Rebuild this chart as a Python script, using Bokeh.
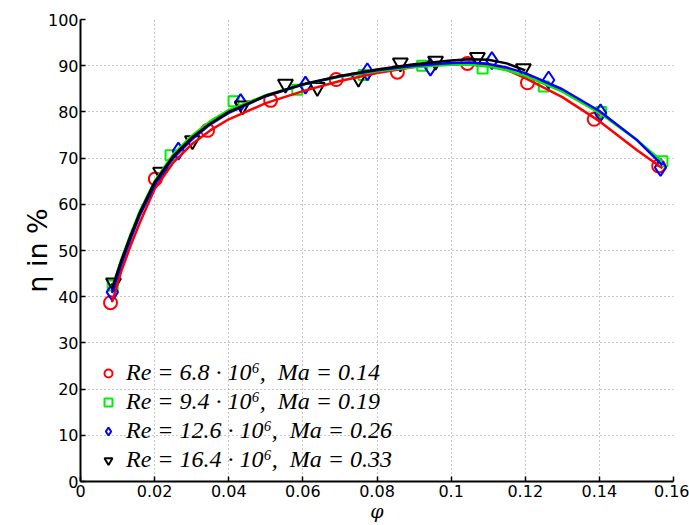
from bokeh.plotting import figure
from bokeh.models import Range1d, FixedTicker, CustomJSTickFormatter, Legend
from bokeh.embed import file_html
from bokeh.resources import INLINE

# ---- measured data points ----
red_x = [0.0081, 0.0202, 0.0343, 0.0513, 0.0690, 0.0855, 0.1044, 0.1206, 0.1386, 0.1560]
red_y = [38.7, 65.5, 76.0, 82.5, 87.0, 88.6, 90.5, 86.3, 78.4, 68.3]

green_x = [0.0087, 0.0243, 0.0413, 0.0585, 0.0764, 0.0922, 0.1085, 0.1250, 0.1405, 0.1570]
green_y = [42.4, 70.6, 82.3, 84.8, 88.0, 90.0, 89.4, 85.5, 80.0, 69.3]

blue_x = [0.0086, 0.0264, 0.0432, 0.0607, 0.0774, 0.0944, 0.1110, 0.1263, 0.1403, 0.1565]
blue_y = [41.0, 71.5, 82.0, 85.8, 88.7, 89.7, 91.1, 86.9, 79.8, 68.0]

black_x = [0.0089, 0.0216, 0.0302, 0.0437, 0.0553, 0.0639, 0.0750, 0.0863, 0.0958, 0.1071, 0.1195]
black_y = [43.0, 67.0, 73.8, 81.3, 86.0, 85.3, 87.3, 90.6, 91.0, 91.8, 89.4]

# ---- fitted curves ----
curve_x = [0.0085, 0.011, 0.0135, 0.016, 0.02, 0.025, 0.03, 0.035, 0.04, 0.05, 0.06,
           0.07, 0.08, 0.09, 0.10, 0.105, 0.11, 0.115, 0.12, 0.13, 0.14, 0.15, 0.157]
red_fit = [38.8, 45.5, 51.0, 56.0, 63.3, 69.0, 73.0, 76.0, 78.4, 81.9, 84.5,
           86.7, 88.4, 89.7, 90.5, 90.6, 90.2, 89.1, 87.3, 83.2, 78.0, 71.8, 67.8]
green_fit = [41.8, 48.0, 53.5, 58.5, 65.0, 70.8, 74.8, 78.0, 80.4, 83.6, 85.9,
             87.6, 88.8, 89.7, 90.2, 90.2, 89.8, 89.0, 87.8, 84.4, 79.8, 74.0, 69.3]
blue_fit = [40.8, 47.0, 52.5, 57.6, 64.2, 70.0, 74.0, 77.3, 79.8, 83.4, 85.9,
            87.7, 89.0, 90.0, 90.6, 90.7, 90.4, 89.6, 88.4, 84.9, 80.2, 74.0, 68.5]
black_fit = [41.8, 47.8, 53.2, 58.2, 64.8, 70.4, 74.4, 77.5, 80.0, 83.5, 86.0,
             87.8, 89.2, 90.3, 91.1, 91.4, 91.3, 90.5, 89.0]

labels = ["Re = 6.8 · 10⁶,  Ma = 0.14", "Re = 9.4 · 10⁶,  Ma = 0.19",
          "Re = 12.6 · 10⁶,  Ma = 0.26", "Re = 16.4 · 10⁶,  Ma = 0.33"]
x_ticks = [0, 0.02, 0.04, 0.06, 0.08, 0.10, 0.12, 0.14, 0.16]
y_ticks = [0, 10, 20, 30, 40, 50, 60, 70, 80, 90, 100]

p = figure(width=689, height=525, output_backend="svg", toolbar_location=None,
           x_range=Range1d(0, 0.16), y_range=Range1d(0, 100),
           min_border_left=80, min_border_right=16, min_border_top=19, min_border_bottom=44)
p.outline_line_color = None
p.background_fill_color = "white"
p.border_fill_color = "white"

for ax in (p.xaxis[0], p.yaxis[0]):
    ax.axis_line_width = 2
    ax.axis_line_color = "black"
    ax.major_tick_in = 5
    ax.major_tick_out = 0
    ax.major_tick_line_width = 1.5
    ax.minor_tick_line_color = None
    ax.major_label_text_font = "DejaVu Sans"
    ax.major_label_text_font_size = "16px"
    ax.major_label_text_color = "black"
    ax.axis_label_text_color = "black"

p.xaxis.ticker = FixedTicker(ticks=x_ticks)
p.yaxis.ticker = FixedTicker(ticks=y_ticks)
p.xaxis.formatter = CustomJSTickFormatter(code="return Number(tick.toFixed(2)).toString();")
p.xaxis.major_label_standoff = 3
p.yaxis.major_label_standoff = 2

p.xaxis.axis_label = "φ"
p.xaxis.axis_label_text_font = "DejaVu Serif"
p.xaxis.axis_label_text_font_style = "italic"
p.xaxis.axis_label_text_font_size = "19px"
p.xaxis.axis_label_standoff = 0
p.yaxis.axis_label = "η in %"
p.yaxis.axis_label_text_font = "DejaVu Sans"
p.yaxis.axis_label_text_font_style = "normal"
p.yaxis.axis_label_text_font_size = "27px"
p.yaxis.axis_label_standoff = -8

for g in (p.xgrid[0], p.ygrid[0]):
    g.grid_line_color = "#8c8c8c"
    g.grid_line_dash = "1 3"
    g.grid_line_width = 1
p.xgrid.ticker = FixedTicker(ticks=x_ticks)
p.ygrid.ticker = FixedTicker(ticks=y_ticks)

r1 = p.scatter(red_x, red_y, marker="circle", size=13, fill_color=None, line_color="#ff0000", line_width=2)
r2 = p.scatter(green_x, green_y, marker="square", size=10, fill_color=None, line_color="#00ee00", line_width=2)
r3 = p.scatter(blue_x, blue_y, marker="diamond", size=17, fill_color=None, line_color="#0000ff", line_width=2)
r4 = p.scatter(black_x, black_y, marker="inverted_triangle", size=15, fill_color=None, line_color="black", line_width=2)

p.line(curve_x, red_fit, line_color="#ff0000", line_width=2.5)
p.line(curve_x, green_fit, line_color="#00ee00", line_width=2.5)
p.line(curve_x, blue_fit, line_color="#0000ff", line_width=2.5)
p.line(curve_x[:len(black_fit)], black_fit, line_color="black", line_width=2.5)

legend = Legend(items=[(labels[0], [r1]), (labels[1], [r2]), (labels[2], [r3]), (labels[3], [r4])],
                location=(16, 6))
legend.background_fill_alpha = 0
legend.border_line_alpha = 0
legend.label_text_font = "Liberation Serif"
legend.label_text_font_size = "24px"
legend.label_text_font_style = "italic"
legend.label_text_color = "black"
legend.label_height = 24
legend.glyph_height = 24
legend.glyph_width = 20
legend.spacing = 2
legend.padding = 2
legend.margin = 0
legend.label_standoff = 8
p.add_layout(legend)

open("out.html", "w").write(file_html(p, INLINE))
